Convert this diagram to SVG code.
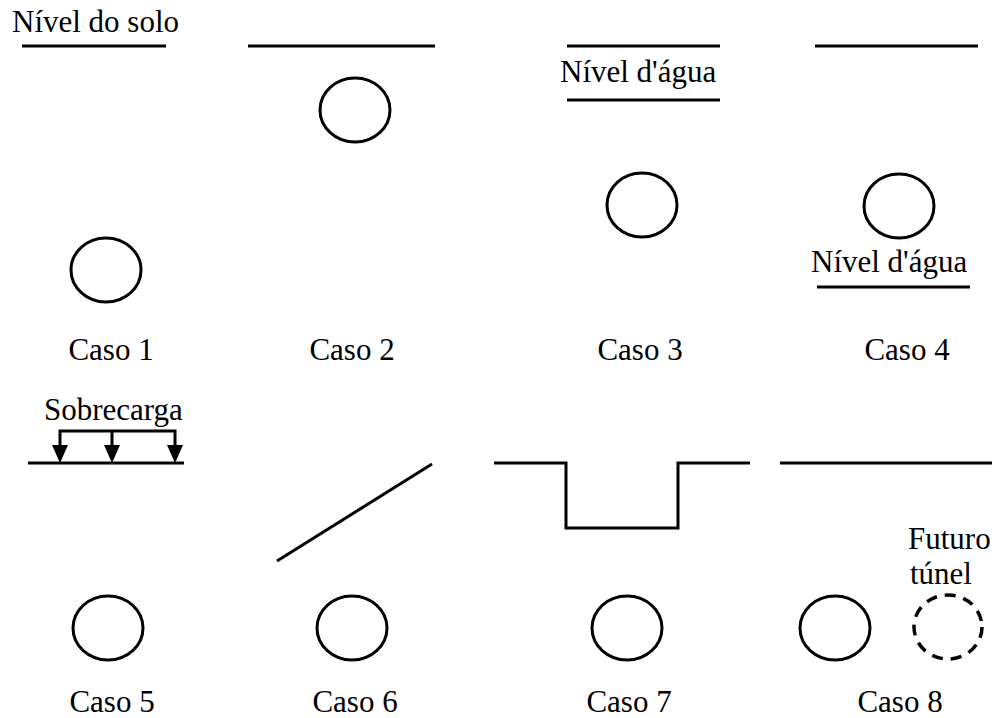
<svg xmlns="http://www.w3.org/2000/svg" width="992" height="718" viewBox="0 0 992 718">
  <defs>
    <style>
      .ln { stroke: #000; stroke-width: 3; fill: none; }
      .tun { stroke: #000; stroke-width: 3; fill: none; }
      .fut { stroke: #000; stroke-width: 3.5; fill: none; stroke-dasharray: 11 8; }
      .t { font-family: "Liberation Serif", "Times New Roman", serif; font-size: 31px; fill: #000; }
      .c { text-anchor: middle; }
    </style>
  </defs>
  <rect width="992" height="718" fill="#fff"/>

  <!-- Caso 1 -->
  <g id="caso1">
    <text class="t" x="12" y="32">Nível do solo</text>
    <line class="ln" x1="22" y1="46" x2="166" y2="46"/>
    <ellipse class="tun" cx="106" cy="270" rx="35" ry="32"/>
    <text class="t c" x="111" y="360">Caso 1</text>
  </g>

  <!-- Caso 2 -->
  <g id="caso2">
    <line class="ln" x1="248" y1="46" x2="435" y2="46"/>
    <ellipse class="tun" cx="355" cy="110" rx="35" ry="32"/>
    <text class="t c" x="352" y="360">Caso 2</text>
  </g>

  <!-- Caso 3 -->
  <g id="caso3">
    <line class="ln" x1="567" y1="46" x2="720" y2="46"/>
    <text class="t" x="560" y="82">Nível d'água</text>
    <line class="ln" x1="567" y1="100" x2="720" y2="100"/>
    <ellipse class="tun" cx="642" cy="205" rx="35" ry="32"/>
    <text class="t c" x="640" y="360">Caso 3</text>
  </g>

  <!-- Caso 4 -->
  <g id="caso4">
    <line class="ln" x1="815" y1="46" x2="978" y2="46"/>
    <ellipse class="tun" cx="899" cy="206" rx="35" ry="32"/>
    <text class="t" x="811" y="272">Nível d'água</text>
    <line class="ln" x1="817" y1="287" x2="970" y2="287"/>
    <text class="t c" x="907" y="360">Caso 4</text>
  </g>

  <!-- Caso 5: surcharge load with three arrows -->
  <g id="caso5">
    <text class="t" x="44" y="420">Sobrecarga</text>
    <line class="ln" x1="28" y1="463" x2="184" y2="463"/>
    <polyline class="ln" points="60,450 60,431 175,431 175,450"/>
    <line class="ln" x1="112" y1="431" x2="112" y2="450"/>
    <path d="M52,445 L68,445 L60,463 Z M104,445 L120,445 L112,463 Z M167,445 L183,445 L175,463 Z" fill="#000"/>
    <ellipse class="tun" cx="108" cy="628" rx="35" ry="32"/>
    <text class="t c" x="112" y="712">Caso 5</text>
  </g>

  <!-- Caso 6: sloped ground -->
  <g id="caso6">
    <line class="ln" x1="277" y1="561" x2="432" y2="464"/>
    <ellipse class="tun" cx="352" cy="628" rx="35" ry="32"/>
    <text class="t c" x="355" y="712">Caso 6</text>
  </g>

  <!-- Caso 7: excavation -->
  <g id="caso7">
    <polyline class="ln" points="494,463 566,463 566,528 678,528 678,463 750,463"/>
    <ellipse class="tun" cx="627" cy="628" rx="35" ry="32"/>
    <text class="t c" x="629" y="712">Caso 7</text>
  </g>

  <!-- Caso 8: adjacent future tunnel -->
  <g id="caso8">
    <line class="ln" x1="780" y1="463" x2="992" y2="463"/>
    <ellipse class="tun" cx="835" cy="628" rx="35" ry="32"/>
    <text class="t" x="908" y="549">Futuro</text>
    <text class="t" x="910" y="584">túnel</text>
    <ellipse class="fut" cx="948" cy="627" rx="34" ry="32"/>
    <text class="t c" x="900" y="712">Caso 8</text>
  </g>
</svg>
